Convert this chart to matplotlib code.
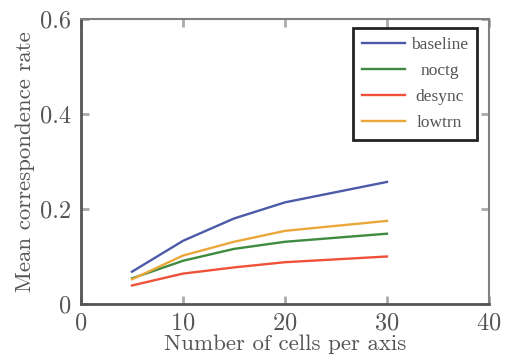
import matplotlib
matplotlib.use('Agg')
import matplotlib.pyplot as plt
from matplotlib.ticker import FuncFormatter

cells = [5, 10, 15, 20, 30]
baseline = [0.068, 0.133, 0.180, 0.214, 0.257]
noctg = [0.054, 0.091, 0.116, 0.131, 0.148]
desync = [0.039, 0.064, 0.077, 0.088, 0.100]
lowtrn = [0.052, 0.102, 0.131, 0.154, 0.175]

plt.rcParams['font.family'] = 'cmr10'
plt.rcParams['mathtext.fontset'] = 'cm'
plt.rcParams['axes.formatter.use_mathtext'] = True

fig = plt.figure(figsize=(5.09, 3.58), dpi=100)
ax = fig.add_axes([81/509, 1-304/358, 408/509, 285/358])

ax.plot(cells, baseline, color='#4c5aa8', lw=1.7, label='baseline')
ax.plot(cells, noctg, color='#3f8a3f', lw=1.7, label='noctg')
ax.plot(cells, desync, color='#f0513a', lw=1.7, label='desync')
ax.plot(cells, lowtrn, color='#eba83a', lw=1.7, label='lowtrn')

ax.set_xlim(0, 40)
ax.set_ylim(0, 0.6)
ax.set_xticks([0, 10, 20, 30, 40])
ax.set_yticks([0, 0.2, 0.4, 0.6])
ax.yaxis.set_major_formatter(FuncFormatter(lambda v, p: '0' if v == 0 else '%.1f' % v))

for s in ['left', 'bottom']:
    ax.spines[s].set_color('#555555')
    ax.spines[s].set_linewidth(2)
for s in ['top', 'right']:
    ax.spines[s].set_color('#808080')
    ax.spines[s].set_linewidth(1.5)

ax.tick_params(direction='in', length=6, width=2, color='#aaaaaa',
               labelcolor='#555555', labelsize=17.5, top=True, right=True)
ax.tick_params(axis='y', pad=7)
ax.tick_params(axis='x', pad=6)

ax.set_xlabel('Number of cells per axis', fontsize=16.5, color='#555555', labelpad=0)
ax.set_ylabel('Mean correspondence rate', fontsize=16.5, color='#555555', labelpad=4)

leg = ax.legend(loc='upper right', prop={'family': 'Liberation Serif', 'size': 12.5},
                fancybox=False, framealpha=1, handlelength=2.5, handletextpad=0.35,
                borderpad=0.5, labelspacing=0.58, borderaxespad=0,
                bbox_to_anchor=(1 - 12/408, 1 - 9/285))
leg.get_frame().set_edgecolor('#222222')
leg.get_frame().set_linewidth(2)

# center the labels in their column
r = fig.canvas.get_renderer()
widths = [t.get_window_extent(r).width for t in leg.get_texts()]
for t, w in zip(leg.get_texts(), widths):
    t.set_color('#555555')
    t.set_position(((max(widths) - w) / 2, 0))

fig.savefig('out.png', dpi=100)
